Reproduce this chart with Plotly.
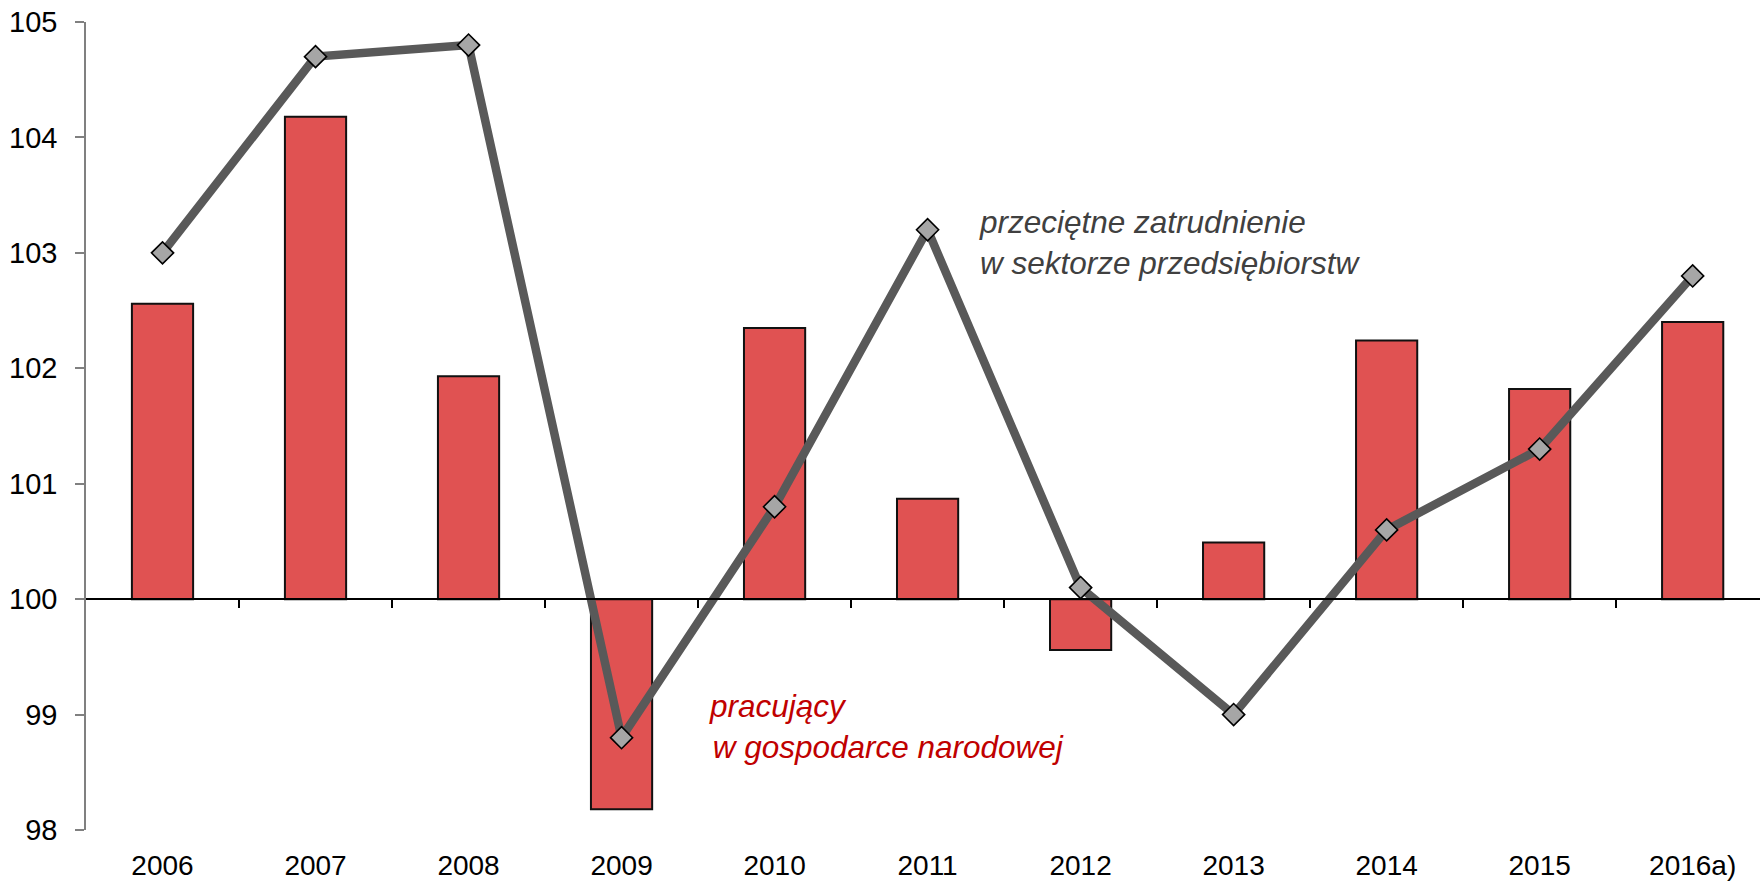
import plotly.graph_objects as go

years = ["2006", "2007", "2008", "2009", "2010", "2011", "2012", "2013", "2014", "2015", "2016a)"]
pracujacy = [102.56, 104.18, 101.93, 98.18, 102.35, 100.87, 99.56, 100.49, 102.24, 101.82, 102.40]
zatrudnienie = [103.0, 104.7, 104.8, 98.8, 100.8, 103.2, 100.1, 99.0, 100.6, 101.3, 102.8]
base_level = 100
y_ticks = [98, 99, 100, 101, 102, 103, 104, 105]

FONT = "Arial, Liberation Sans, sans-serif"
xs = list(range(len(years)))

fig = go.Figure()
fig.add_trace(go.Bar(
    x=xs, y=[v - base_level for v in pracujacy], base=base_level,
    width=0.4, marker=dict(color="#E05252", line=dict(color="#111111", width=2)),
    showlegend=False, hoverinfo="skip",
))
fig.add_trace(go.Scatter(
    x=xs, y=zatrudnienie, mode="lines+markers",
    line=dict(color="#595959", width=8.5),
    marker=dict(symbol="diamond", size=17, color="#A6A6A6", line=dict(color="#000000", width=1.6)),
    showlegend=False, hoverinfo="skip",
))
# invisible trace to activate the axis drawn at y=100
fig.add_trace(go.Scatter(x=[0], y=[base_level], xaxis="x2", mode="markers",
                         marker=dict(opacity=0), showlegend=False, hoverinfo="skip"))

yr = [98, 105]
pos100 = (base_level - yr[0]) / (yr[1] - yr[0])
xr = [-0.5, 10.44]

fig.update_layout(
    width=1760, height=881,
    margin=dict(l=86, r=0, t=22, b=51),
    paper_bgcolor="white", plot_bgcolor="white",
    font=dict(family=FONT, size=28, color="#000000"),
    xaxis=dict(
        range=xr, tickmode="array", tickvals=xs, ticktext=years,
        showline=False, showgrid=False, zeroline=False,
        ticks="outside", ticklen=10, tickcolor="rgba(0,0,0,0)",
        tickfont=dict(size=28, family=FONT, color="#000000"),
        automargin=False,
    ),
    xaxis2=dict(
        range=xr, overlaying="x", anchor="free", position=pos100,
        tickmode="array", tickvals=[i + 0.5 for i in xs[:-1]],
        showticklabels=False, showgrid=False, zeroline=False,
        showline=True, linecolor="#000000", linewidth=2,
        ticks="outside", ticklen=8, tickwidth=2, tickcolor="#000000",
        automargin=False,
    ),
    yaxis=dict(
        range=yr, tickmode="array", tickvals=y_ticks,
        showgrid=False, zeroline=False,
        showline=True, linecolor="#808080", linewidth=1.5,
        ticks="outside", ticklen=9, tickcolor="#808080", tickwidth=1.5,
        tickfont=dict(size=29, family=FONT, color="#000000"),
        ticklabelstandoff=12,
        automargin=False,
    ),
    annotations=[
        dict(text="<i>przeciętne zatrudnienie<br>w sektorze przedsiębiorstw</i>",
             xref="paper", yref="paper", x=0.532, y=0.7265, xanchor="left", yanchor="middle",
             align="left", showarrow=False, font=dict(size=31.5, family=FONT, color="#404040")),
        dict(text="<i>pracujący<br>\u200aw gospodarce narodowej</i>",
             xref="paper", yref="paper", x=0.3712, y=0.1287, xanchor="left", yanchor="middle",
             align="left", showarrow=False, font=dict(size=31.5, family=FONT, color="#C00000")),
    ],
)

fig.write_html("out.html", config={"displayModeBar": False},
               post_script="document.body.style.margin='0';document.body.style.overflow='hidden';")
